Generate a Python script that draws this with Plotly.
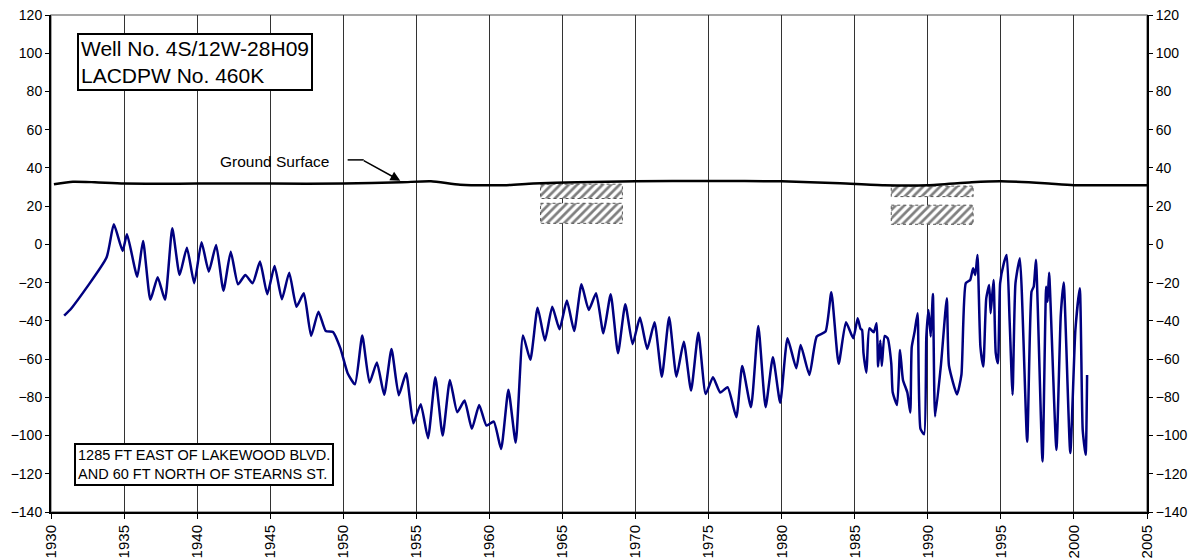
'''
Hydrograph of well 4S/12W-28H09 with Plotly
'''
import plotly.graph_objects as go

# water level (ft, msl) readings
wl_years = [1930.9, 1931.4, 1933.8, 1934.3, 1934.9, 1935.2, 1935.9, 1936.3, 1936.8, 1937.3,
            1937.8, 1938.3, 1938.8, 1939.3, 1939.8, 1940.3, 1940.8, 1941.3, 1941.8, 1942.3,
            1942.8, 1943.3, 1943.8, 1944.3, 1944.8, 1945.3, 1945.8, 1946.3, 1946.8, 1947.3,
            1947.8, 1948.3, 1948.8, 1949.3, 1949.8, 1950.3, 1950.8, 1951.3, 1951.8, 1952.3,
            1952.8, 1953.3, 1953.8, 1954.3, 1954.8, 1955.3, 1955.8, 1956.3, 1956.8, 1957.3,
            1957.8, 1958.3, 1958.8, 1959.3, 1959.8, 1960.3, 1960.8, 1961.3, 1961.8, 1962.3,
            1962.8, 1963.3, 1963.8, 1964.3, 1964.8, 1965.3, 1965.8, 1966.3, 1966.8, 1967.3,
            1967.8, 1968.3, 1968.8, 1969.3, 1969.8, 1970.3, 1970.8, 1971.3, 1971.8, 1972.3,
            1972.8, 1973.3, 1973.8, 1974.3, 1974.8, 1975.3, 1975.8, 1976.3, 1976.9, 1977.3,
            1977.9, 1978.4, 1978.9, 1979.4, 1979.9, 1980.4, 1981.0, 1981.3, 1981.9, 1982.4,
            1983.0, 1983.4, 1983.9, 1984.4, 1984.9, 1985.2, 1985.4, 1985.5, 1985.6, 1985.8,
            1986.0, 1986.3, 1986.5, 1986.6, 1986.75, 1986.85, 1987.05, 1987.25, 1987.5, 1987.6,
            1987.9, 1988.1, 1988.3, 1988.6, 1988.8, 1988.9, 1989.1, 1989.3, 1989.5, 1989.75,
            1989.9, 1990.05, 1990.2, 1990.35, 1990.5, 1990.9, 1991.3, 1991.45, 1992.0, 1992.3,
            1992.6, 1992.9, 1993.1, 1993.25, 1993.4, 1993.6, 1993.8, 1994.0, 1994.2, 1994.3,
            1994.5, 1994.65, 1994.8, 1994.95, 1995.2, 1995.4, 1995.6, 1995.8, 1996.0, 1996.3,
            1996.8, 1997.1, 1997.25, 1997.4, 1997.85, 1998.1, 1998.2, 1998.3, 1998.8, 1999.1,
            1999.3, 1999.75, 2000.1, 2000.4, 2000.6, 2000.8, 2000.9]
wl_values = [-37.3, -33.4, -6.9, 10.5, -3.4, 5.3, -16.9, 1.8, -29.0, -17.2,
             -29.0, 8.4, -16.0, -1.7, -20.3, 1.1, -14.2, -0.3, -24.2, -3.8,
             -20.9, -16.0, -20.3, -9.0, -26.1, -11.3, -28.7, -14.8, -32.6, -25.6,
             -47.9, -35.2, -45.3, -45.8, -54.3, -67.4, -73.2, -47.7, -72.3, -61.8,
             -78.7, -54.7, -78.9, -67.4, -93.6, -83.6, -101.4, -69.5, -100.0, -70.9,
             -87.8, -81.7, -96.5, -84.0, -94.8, -92.7, -107.0, -76.1, -103.7, -47.7,
             -60.4, -33.1, -50.3, -32.6, -44.4, -29.4, -45.3, -20.9, -34.3, -25.6,
             -46.5, -26.1, -56.9, -31.3, -52.2, -38.3, -54.7, -40.7, -69.2, -38.1,
             -69.2, -50.9, -76.5, -46.2, -78.3, -69.5, -77.5, -74.7, -90.4, -63.6,
             -85.2, -42.7, -85.2, -59.0, -82.8, -49.1, -64.8, -52.6, -68.3, -48.2,
             -45.6, -25.0, -62.5, -40.7, -49.1, -38.6, -44.2, -44.7, -56.9, -67.1,
             -43.9, -46.0, -41.2, -63.9, -50.3, -63.6, -47.9, -49.1, -62.2, -77.5,
             -84.0, -55.2, -70.9, -77.5, -88.0, -53.7, -45.6, -36.0, -96.5, -99.3,
             -48.2, -34.3, -48.2, -26.0, -90.1, -63.1, -28.2, -63.5, -78.5, -68.3,
             -20.3, -18.6, -12.5, -16.0, -5.5, -53.5, -63.9, -28.2, -21.2, -36.0,
             -18.6, -56.9, -62.2, -20.3, -9.9, -5.5, -40.0, -78.7, -20.3, -7.2,
             -103.2, -24.7, -22.0, -8.1, -113.6, -22.1, -30.0, -14.8, -107.5, -36.9,
             -20.0, -109.2, -44.7, -22.9, -97.0, -110.1, -68.3]

# ground surface elevation
gs_years = [1930.2, 1931.5, 1933, 1935, 1940, 1945, 1950, 1954, 1956, 1958, 1961, 1963,
            1966, 1970, 1975, 1980, 1984, 1987, 1990, 1993, 1995, 1998, 2000, 2005]
gs_values = [31.5, 32.8, 32.5, 31.8, 31.8, 31.8, 31.8, 32.5, 33.0, 31.2, 31.0, 31.8,
             32.5, 33.0, 33.2, 33.0, 32.0, 31.0, 31.0, 32.5, 33.0, 32.0, 31.0, 31.0]

# hatched blocks (year span, elevation bands)
hatch_spans = [(1963.5, 1969.1), (1987.5, 1993.1)]
hatch_bands = [[(31.5, 24.0), (21.5, 11.0)], [(30.5, 25.0), (20.5, 10.5)]]

x_ticks = list(range(1930, 2006, 5))
y_ticks = list(range(-140, 121, 20))

FONT = 'Arial, Liberation Sans, sans-serif'

fig = go.Figure()

# hatched areas
for (x0, x1), bands in zip(hatch_spans, hatch_bands):
    for top, bot in bands:
        fig.add_trace(go.Scatter(
            x=[x0, x1, x1, x0, x0], y=[top, top, bot, bot, top],
            mode='lines', fill='toself', line=dict(width=1, color='#555555', dash='dot'),
            fillcolor='rgba(0,0,0,0)',
            fillpattern=dict(shape='/', fgcolor='black', bgcolor='white',
                             size=6, solidity=0.45),
            hoverinfo='skip', showlegend=False))

fig.add_trace(go.Scatter(x=gs_years, y=gs_values, mode='lines',
                         line=dict(color='black', width=2.5, shape='spline', smoothing=0.6),
                         showlegend=False))

fig.add_trace(go.Scatter(x=wl_years, y=wl_values, mode='lines',
                         line=dict(color='#000080', width=2.5, shape='spline', smoothing=0.5),
                         showlegend=False))

# dummy trace to bring up the right axis
fig.add_trace(go.Scatter(x=[1930], y=[0], yaxis='y2', mode='markers',
                         marker=dict(opacity=0), hoverinfo='skip', showlegend=False))

# ground surface label with bent arrow
fig.add_annotation(x=1945.3, y=43.3, text='Ground Surface', showarrow=False,
                   font=dict(family=FONT, size=15.5, color='black'))
fig.add_shape(type='line', x0=1950.3, x1=1951.4, y0=44.2, y1=44.2,
              line=dict(color='black', width=1.5))
fig.add_annotation(x=1953.9, y=33.3, ax=1951.3, ay=44.2, axref='x', ayref='y',
                   text='', showarrow=True, arrowhead=2, arrowsize=1.3,
                   arrowwidth=1.5, arrowcolor='black', startstandoff=0)

fig.add_annotation(x=1931.75, y=110.6, xanchor='left', yanchor='top', align='left',
                   text='Well No. 4S/12W-28H09<br>LACDPW No. 460K', showarrow=False,
                   font=dict(family=FONT, size=21, color='black'),
                   bordercolor='black', borderwidth=2, borderpad=2, bgcolor='white')

fig.add_annotation(x=1931.6, y=-103.8, xanchor='left', yanchor='top', align='left',
                   text='1285 FT EAST OF LAKEWOOD BLVD.<br>AND 60 FT NORTH OF STEARNS ST.',
                   showarrow=False, font=dict(family=FONT, size=14.5, color='black'),
                   bordercolor='black', borderwidth=2, borderpad=2, bgcolor='white')

# plot frame
fig.add_shape(type='rect', xref='paper', yref='paper', x0=0, x1=1, y0=0, y1=1,
              line=dict(color='#888888', width=1.5), layer='below')

# page body adds an 8px offset, so the figure is trimmed to fit the window
fig.update_layout(
    width=1194, height=552,
    margin=dict(l=43, r=55, t=7, b=48),
    paper_bgcolor='white', plot_bgcolor='white',
    font=dict(family=FONT, size=15, color='black'),
    xaxis=dict(range=[1930, 2005], tickvals=x_ticks, tickangle=-90, automargin=False,
               showgrid=True, gridcolor='#333333', gridwidth=1,
               showline=True, linecolor='black', linewidth=2,
               ticks='outside', ticklen=5, tickcolor='black', zeroline=False),
    yaxis=dict(range=[-140, 120], tickvals=y_ticks, showgrid=False, zeroline=False,
               automargin=False, showline=True, linecolor='black', linewidth=2,
               ticks='outside', ticklen=4, tickcolor='black', ticklabeloverflow='allow',
               tickfont=dict(size=14)),
    yaxis2=dict(range=[-140, 120], tickvals=y_ticks, overlaying='y', side='right',
                automargin=False, showgrid=False, zeroline=False, showline=True,
                linecolor='black', linewidth=2, ticks='outside', ticklen=4,
                tickcolor='black', ticklabeloverflow='allow', tickfont=dict(size=14)),
    hovermode='closest'
)

fig.write_html('out.html')
